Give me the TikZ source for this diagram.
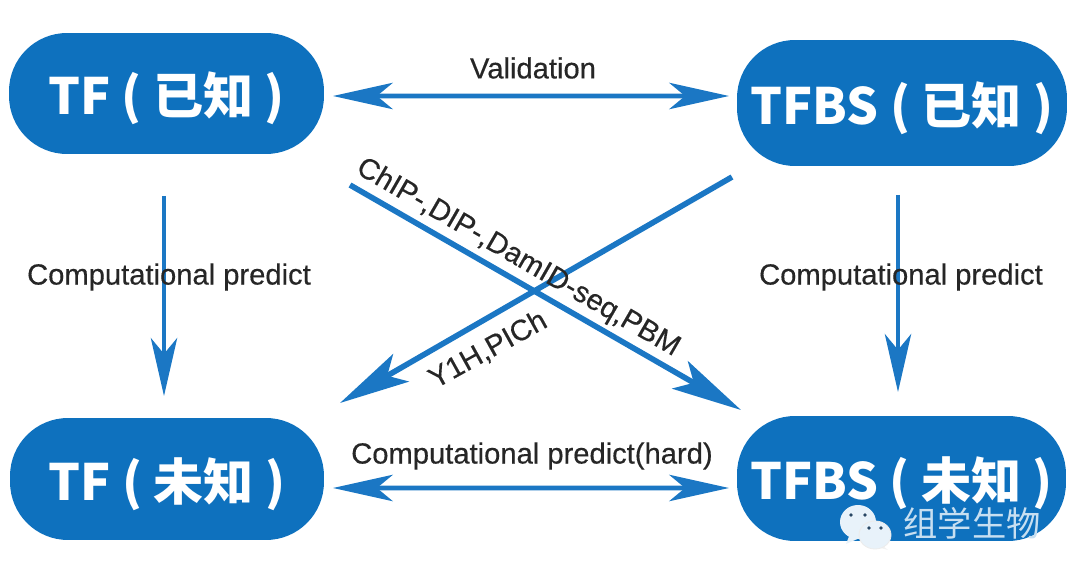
\documentclass[tikz,border=0pt]{standalone}
\usepackage{fontspec}
\setmainfont{Liberation Sans}
\newfontfamily\cjkfont{Noto Sans CJK SC}
\newfontfamily\labelfont[FakeBold=0.4]{Liberation Sans}
\definecolor{boxblue}{RGB}{14, 113, 190}
\definecolor{arrowblue}{RGB}{27, 119, 196}
\definecolor{labelgray}{RGB}{38, 38, 38}
\definecolor{chatpale}{RGB}{232, 242, 250}
\definecolor{chateye}{RGB}{40, 70, 100}
\usetikzlibrary{arrows.meta, positioning, calc}

\tikzset{
  statebox/.style={fill=boxblue, text=white, rounded corners=33pt, inner sep=0pt, outer sep=0pt, text height=30pt, text depth=5.8pt, font=\cjkfont\fontsize{28.5}{32}\selectfont\bfseries},
  flowlabel/.style={text=labelgray, inner sep=0pt, font=\labelfont\fontsize{16.6}{19}\selectfont},
  flatarrow/.style={draw=arrowblue, line width=2.6pt, {Stealth[length=34pt, width=15pt, inset=9pt]}-{Stealth[length=34pt, width=15pt, inset=9pt]}},
  downarrow/.style={draw=arrowblue, line width=2.2pt, -{Stealth[length=33pt, width=15pt, inset=9pt]}},
  crossarrow/.style={draw=arrowblue, line width=3.2pt, -{Stealth[length=40pt, width=18pt, inset=9pt]}},
}

\begin{document}
\begin{tikzpicture}[x=0.02cm, y=-0.02cm]
  \useasboundingbox (0, 0) rectangle (1080, 581);

  % Known and unknown boxes
  \node[statebox, minimum width=6.3cm, minimum height=2.42cm] (tfknown) at (166.5, 93.5) {TF ( 已知 )};
  \node[statebox, minimum width=6.6cm, minimum height=2.52cm] (tfbsknown) at (902, 103) {TFBS ( 已知 )};
  \node[statebox, minimum width=6.28cm, minimum height=2.44cm] (tfunknown) at (167, 479) {TF ( 未知 )};
  \node[statebox, minimum width=6.58cm, minimum height=2.5cm] (tfbsunknown) at (901.5, 478.5) {TFBS ( 未知 )};

  % Horizontal arrows
  \draw[flatarrow] ($(tfknown.east)+(9, 2.5)$) -- ($(tfbsknown.west)+(-8, -7)$);
  \draw[flatarrow] ($(tfunknown.east)+(9, 9)$) -- ($(tfbsunknown.west)+(-8, 9.5)$);
  \node[flowlabel] (validation) at (533, 68) {Validation};
  \node[flowlabel] (hardpredict) at (532, 456) {Computational predict(hard)};

  % Vertical arrows
  \draw[downarrow] ($(tfknown.south)+(-2.5, 42)$) -- ($(tfunknown.north)+(-3, -22)$);
  \draw[downarrow] ($(tfbsknown.south)+(-4, 29)$) -- ($(tfbsunknown.north)+(-3.5, -24)$);
  \node[flowlabel] (leftpredict) at (169, 277) {Computational predict};
  \node[flowlabel] (rightpredict) at (901, 277) {Computational predict};

  % Crossing arrows
  \coordinate (chipstart) at (350, 185);
  \coordinate (chipend) at (741, 410);
  \coordinate (yonestart) at (732, 177);
  \coordinate (yoneend) at (340, 403);
  \draw[crossarrow] (chipstart) -- (chipend);
  \draw[crossarrow] (yonestart) -- (yoneend);
  \node[flowlabel, rotate=-30] (chiplabel) at (518, 258) {ChIP-,DIP-,DamID-seq,PBM};
  \node[flowlabel, rotate=29] (yonelabel) at (488, 350) {Y1H,PICh};

  % Chat badge in the corner
  \fill[chatpale] (850, 534) -- (846, 544) -- (862, 537) -- cycle;
  \fill[chatpale] (858, 522) ellipse (18 and 17);
  \fill[chateye] (851, 515) circle (1.8);
  \fill[chateye] (865, 515) circle (1.8);
  \fill[white!90!gray] (883, 546) -- (888, 550) -- (877, 547) -- cycle;
  \fill[chatpale, draw=white!85!gray, line width=0.5pt] (875, 535) ellipse (16 and 14);
  \fill[chateye] (869, 528) circle (1.8);
  \fill[chateye] (881, 528) circle (1.8);
  \node[inner sep=0pt, text=chatpale!85!boxblue, font=\cjkfont\fontsize{19.5}{22}\selectfont] (badgetext) at (972, 523) {组学生物};
\end{tikzpicture}
\end{document}
